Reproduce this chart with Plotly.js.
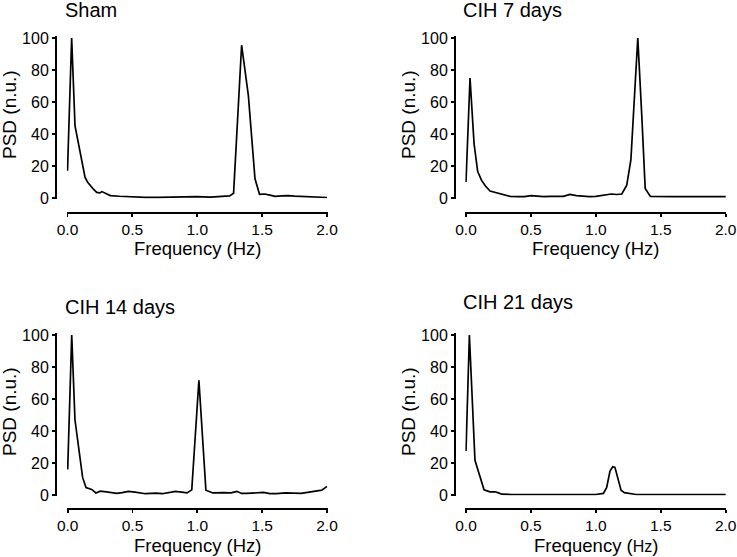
<!DOCTYPE html>
<html>
<head>
<meta charset="utf-8">
<script src="https://cdn.plot.ly/plotly-3.0.1.min.js"></script>
<style>
  html, body { margin: 0; padding: 0; background: #fff; }
  #chart { width: 737px; height: 557px; }
</style>
</head>
<body>
<div id="chart"></div>
<script>
// values
let sham_freq = [0, 0.032, 0.058, 0.077, 0.096, 0.115, 0.135, 0.154, 0.173, 0.2, 0.225, 0.25, 0.265, 0.29, 0.33, 0.4, 0.5, 0.6, 0.7, 0.8, 0.9, 1.0, 1.1, 1.2, 1.25, 1.28, 1.342, 1.394, 1.445, 1.48, 1.52, 1.56, 1.6, 1.65, 1.7, 1.75, 1.8, 1.9, 2.0];
let sham_psd = [17, 100, 45, 37, 30, 20, 13, 10, 8, 5.5, 3.5, 3.2, 4, 3, 1.5, 1.1, 0.7, 0.4, 0.4, 0.5, 0.5, 0.9, 0.5, 0.9, 1.3, 3, 95.5, 64, 12, 2.3, 2.5, 1.8, 1, 1.3, 1.5, 1.2, 1.0, 0.5, 0.3];

let cih7_freq = [0, 0.031, 0.062, 0.09, 0.12, 0.15, 0.185, 0.21, 0.236, 0.29, 0.34, 0.4, 0.45, 0.5, 0.55, 0.6, 0.65, 0.7, 0.75, 0.8, 0.85, 0.9, 0.95, 1.0, 1.06, 1.12, 1.16, 1.2, 1.238, 1.27, 1.295, 1.323, 1.354, 1.38, 1.42, 1.5, 1.6, 1.7, 1.8, 1.9, 2.0];
let cih7_psd = [10, 75, 34, 16.5, 11, 7.5, 4.4, 3.8, 3.3, 2, 1, 0.8, 0.9, 1.5, 1, 0.8, 1, 0.8, 1, 2.3, 1.5, 1.2, 0.8, 1, 1.6, 2.5, 2.2, 2.5, 8, 24, 60, 100, 51, 6, 1, 0.8, 0.8, 0.8, 0.7, 0.6, 0.8];

let cih14_freq = [0, 0.031, 0.056, 0.09, 0.115, 0.141, 0.165, 0.185, 0.218, 0.25, 0.3, 0.378, 0.42, 0.468, 0.52, 0.6, 0.68, 0.73, 0.8, 0.83, 0.88, 0.92, 0.957, 1.012, 1.066, 1.12, 1.2, 1.26, 1.305, 1.34, 1.38, 1.45, 1.51, 1.56, 1.61, 1.68, 1.74, 1.8, 1.85, 1.9, 1.96, 2.0];
let cih14_psd = [16, 100, 47, 28, 11, 4.6, 4, 3.5, 1.3, 2.4, 2, 1, 1.5, 2.3, 1.8, 0.8, 1.2, 0.8, 1.8, 2.3, 1.8, 1.3, 3.2, 71.7, 3, 1.3, 1.5, 1.3, 2.3, 1.0, 1.0, 1.2, 1.6, 0.9, 0.8, 1.3, 1.2, 1.0, 1.6, 2.3, 3, 5.4];

let cih21_freq = [0, 0.026, 0.069, 0.103, 0.139, 0.185, 0.223, 0.25, 0.275, 0.35, 0.5, 0.6, 0.7, 0.8, 0.9, 1.0, 1.058, 1.083, 1.109, 1.13, 1.147, 1.168, 1.194, 1.22, 1.25, 1.31, 1.4, 1.5, 1.6, 1.7, 1.8, 1.9, 2.0];
let cih21_psd = [27.5, 100, 21.7, 12.3, 3.3, 2, 2, 1.3, 0.5, 0.3, 0.5, 0.3, 0.3, 0.3, 0.3, 0.3, 1, 4.6, 15, 17.7, 17.3, 11, 3, 1.5, 1.2, 0.3, 0.3, 0.3, 0.3, 0.3, 0.3, 0.3, 0.3];

let panel_titles = ['Sham', 'CIH 7 days', 'CIH 14 days', 'CIH 21 days'];
let y_ticks = [0, 20, 40, 60, 80, 100];
let x_ticks = [0, 0.5, 1.0, 1.5, 2.0];

const W = 737, H = 557;
const FONT = 'Liberation Sans, Arial, Helvetica, sans-serif';

function px(x) { return x / W; }
function py(y) { return 1 - y / H; }

// pixel frames of each panel: x0/x2 = where 0 Hz and 2 Hz fall, y0/y100 = where 0 and 100 fall
let frames = [
    { x0: 67.5, x2: 327, y0: 198, y100: 38, xline: 211.7, yline: 55 },
    { x0: 466, x2: 725.7, y0: 198, y100: 38, xline: 211.7, yline: 454 },
    { x0: 67.7, x2: 327, y0: 495, y100: 335, xline: 508, yline: 55 },
    { x0: 466, x2: 725.7, y0: 495, y100: 335, xline: 508, yline: 454 }
];

let series = [
    [sham_freq, sham_psd],
    [cih7_freq, cih7_psd],
    [cih14_freq, cih14_psd],
    [cih21_freq, cih21_psd]
];

let data = [];
let layout = {
    width: W,
    height: H,
    margin: { l: 0, r: 0, t: 0, b: 0 },
    paper_bgcolor: '#fff',
    plot_bgcolor: 'rgba(0,0,0,0)',
    showlegend: false,
    font: { family: FONT, color: '#000', size: 16 },
    annotations: []
};

const XPAD = 0.006, YPAD_LO = 0.5, YPAD_HI = 1.0;

for (let i = 0; i < 4; ++i) {
    let f = frames[i];
    let n = i === 0 ? '' : String(i + 1);
    let sx = (f.x2 - f.x0) / 2;
    let sy = (f.y0 - f.y100) / 100;

    data.push({
        x: series[i][0],
        y: series[i][1],
        mode: 'lines',
        line: { color: '#000', width: 1.7 },
        xaxis: 'x' + n,
        yaxis: 'y' + n,
        hoverinfo: 'skip'
    });

    layout['xaxis' + n] = {
        domain: [px(f.x0 - XPAD * sx), px(f.x2 + XPAD * sx)],
        range: [-XPAD, 2 + XPAD],
        anchor: 'free',
        position: py(f.xline),
        showline: true, linecolor: '#000', linewidth: 1.8,
        ticks: 'outside', ticklen: 3, tickwidth: 1.8, tickcolor: '#000',
        tickvals: x_ticks, tickformat: '.1f',
        tickfont: { family: FONT, size: 15.5, color: '#000' },
        showgrid: false, zeroline: false, fixedrange: true
    };
    layout['yaxis' + n] = {
        domain: [py(f.y0 + YPAD_LO * sy), py(f.y100 - YPAD_HI * sy)],
        range: [-YPAD_LO, 100 + YPAD_HI],
        anchor: 'free',
        position: px(f.yline),
        showline: true, linecolor: '#000', linewidth: 1.8,
        ticks: 'outside', ticklen: 3, tickwidth: 1.8, tickcolor: '#000',
        tickvals: y_ticks,
        tickfont: { family: FONT, size: 16, color: '#000' },
        showgrid: false, zeroline: false, fixedrange: true
    };

    // panel title
    layout.annotations.push({
        text: panel_titles[i],
        xref: 'paper', yref: 'paper',
        x: px(f.x0 - 5), xanchor: 'left',
        y: py(i === 3 ? f.y100 - 33 : f.y100 - 28), yanchor: 'middle',
        font: { family: FONT, size: 20, color: '#000' },
        showarrow: false
    });
    // y title
    layout.annotations.push({
        text: 'PSD (n.u.)',
        xref: 'paper', yref: 'paper',
        x: px(f.yline - 46), xanchor: 'center',
        y: py((f.y0 + f.y100) / 2 - 3), yanchor: 'middle',
        textangle: -90,
        font: { family: FONT, size: 19, color: '#000' },
        showarrow: false
    });
    // x title
    layout.annotations.push({
        text: i === 3 ? 'Frequency (<span style="font-size:16px">Hz</span>)' : 'Frequency (Hz)',
        xref: 'paper', yref: 'paper',
        x: px((f.x0 + f.x2) / 2), xanchor: 'center',
        y: py(f.xline + 37), yanchor: 'middle',
        font: { family: FONT, size: 18.5, color: '#000' },
        showarrow: false
    });
}

Plotly.newPlot('chart', data, layout, { staticPlot: true, displayModeBar: false });
</script>
</body>
</html>
